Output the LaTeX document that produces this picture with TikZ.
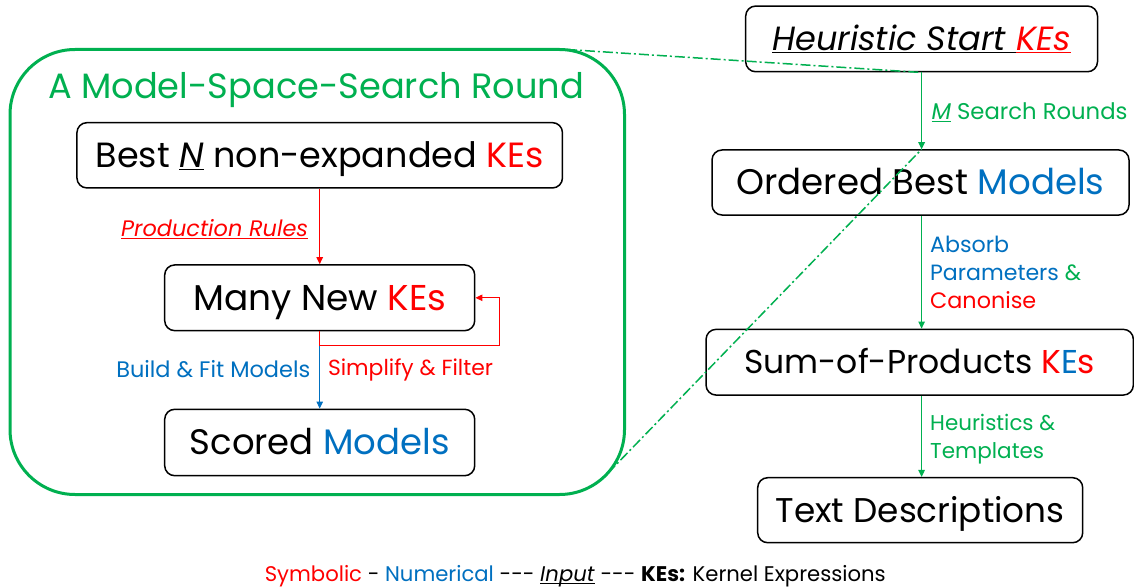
\documentclass[tikz,border=0pt]{standalone}
\usepackage{fontspec}
\setmainfont{Poppins}
\usetikzlibrary{arrows.meta}
\definecolor{kgreen}{HTML}{00B050}
\definecolor{kblue}{HTML}{0070C0}
\definecolor{kred}{HTML}{FF0000}
\newlength\fitlen
\newcommand\fitsize[2]{%
  \settowidth\fitlen{\fontsize{10pt}{12pt}\selectfont #2}%
  \pgfmathsetmacro\fitsz{10*#1/\fitlen}%
  \pgfmathsetmacro\fitbs{1.2*\fitsz}%
  \fontsize{\fitsz pt}{\fitbs pt}\selectfont}
\newcommand\fitto[2]{\fitsize{#1}{#2}\smash{#2}\vphantom{E}}
\tikzset{
  kebox/.style={draw=black, line width=1.5pt, rounded corners=10pt, inner sep=0pt, align=center},
  lbl/.style={inner sep=0pt},
  conn/.style={line width=1pt, -{Triangle[length=7pt,width=6.5pt]}},
  rconn/.style={conn, draw=kred},
  bconn/.style={conn, draw=kblue},
  gconn/.style={conn, draw=kgreen},
  zoomline/.style={draw=kgreen, line width=1.5pt, dash pattern=on 10pt off 3pt on 2pt off 3pt}
}
\begin{document}
\begin{tikzpicture}[x=1pt,y=-1pt]
\fill[white] (0,0) rectangle (1134,588);
\useasboundingbox (0,0) rectangle (1134,588);

% container
\node[draw=kgreen, line width=3pt, rounded corners=65pt, minimum width=614.5pt, minimum height=445pt, inner sep=0pt] (round) at (317.25,272) {};
\node[lbl, anchor=base west] (title) at (48,98.3) {\fitto{536}{\textcolor{kgreen}{A Model-Space-Search Round}}};

% left boxes
\node[kebox, minimum width=485.5pt, minimum height=65.3pt] (best) at (319.7,155.3) {\fitto{448}{Best \underline{\textit{N}} non-expanded \textcolor{kred}{KEs}}};
\node[kebox, minimum width=310pt, minimum height=65.7pt] (many) at (319.7,297.8) {\fitto{253}{Many New \textcolor{kred}{KEs}}};
\node[kebox, minimum width=310pt, minimum height=66.4pt] (scored) at (319.7,442.5) {\fitto{260}{Scored \textcolor{kblue}{Models}}};

% right boxes
\node[kebox, minimum width=351.8pt, minimum height=65.7pt] (heur) at (921.6,38.9) {\fitto{299}{\underline{\textit{Heuristic Start }}\textcolor{kred}{\underline{\textit{KEs}}}}};
\node[kebox, minimum width=417pt, minimum height=65pt] (ordered) at (920.5,182.5) {\fitto{368}{Ordered Best \textcolor{kblue}{Models}}};
\node[kebox, minimum width=427.3pt, minimum height=65.7pt] (sum) at (919.7,362.2) {\fitto{351}{Sum-of-Products \textcolor{kred}{K}\textcolor{kblue}{E}\textcolor{kred}{s}}};
\node[kebox, minimum width=325pt, minimum height=65pt] (text) at (920.2,510.2) {\fitto{289}{Text Descriptions}};

% labels
\node[lbl, anchor=base east] (prod) at (308.4,236.7) {\fitto{187}{\textcolor{kred}{\underline{\textit{Production Rules}}}}};
\node[lbl, anchor=base east] (build) at (310.5,377.7) {\fitto{194}{\textcolor{kblue}{Build \& Fit Models}}};
\node[lbl, anchor=base west] (simp) at (327.8,375) {\fitto{165}{\textcolor{kred}{Simplify \& Filter}}};
\node[lbl, anchor=base west] (mrounds) at (931.3,120) {\fitto{196}{\textcolor{kgreen}{\underline{\textit{M}} Search Rounds}}};
\node[lbl, anchor=base west] (abs1) at (930,252.7) {\fitto{79}{\textcolor{kblue}{Absorb}}};
\node[lbl, anchor=base west] (abs2) at (930,280.7) {\fitto{151}{\textcolor{kblue}{Parameters} \textcolor{kgreen}{\&}}};
\node[lbl, anchor=base west] (abs3) at (930,308.3) {\fitto{106}{\textcolor{kred}{Canonise}}};
\node[lbl, anchor=base west] (heu1) at (930,430.7) {\fitto{125}{\textcolor{kgreen}{Heuristics \&}}};
\node[lbl, anchor=base west] (heu2) at (930,458.3) {\fitto{114}{\textcolor{kgreen}{Templates}}};

% legend
\node[lbl, anchor=base west] (legend) at (264.6,581.7) {\fitto{621}{\textcolor{kred}{Symbolic} - \textcolor{kblue}{Numerical} -{}-{}- \underline{\smash{\textit{Input}}} -{}-{}- \textbf{KEs:} Kernel Expressions}};

% zoom lines
\coordinate (g1) at (567,49.5);
\coordinate (g2) at (608,473);
\draw[zoomline] (g1) -- (heur.south);
\draw[zoomline] (g2) -- (heur.south |- ordered.north);

% left connectors
\draw[rconn] (best.south) -- (many.north);
\draw[draw=kred, line width=1pt] (many.south) -- ++(0,14.5) coordinate (split);
\draw[rconn] (split) -| ([xshift=24pt]many.east) -- (many.east);
\draw[bconn] (split) -- (scored.north);

% right connectors
\draw[gconn] (heur.south) -- (heur.south |- ordered.north);
\draw[gconn] (heur.south |- ordered.south) -- (heur.south |- sum.north);
\draw[gconn] (heur.south |- sum.south) -- (heur.south |- text.north);
\end{tikzpicture}
\end{document}
